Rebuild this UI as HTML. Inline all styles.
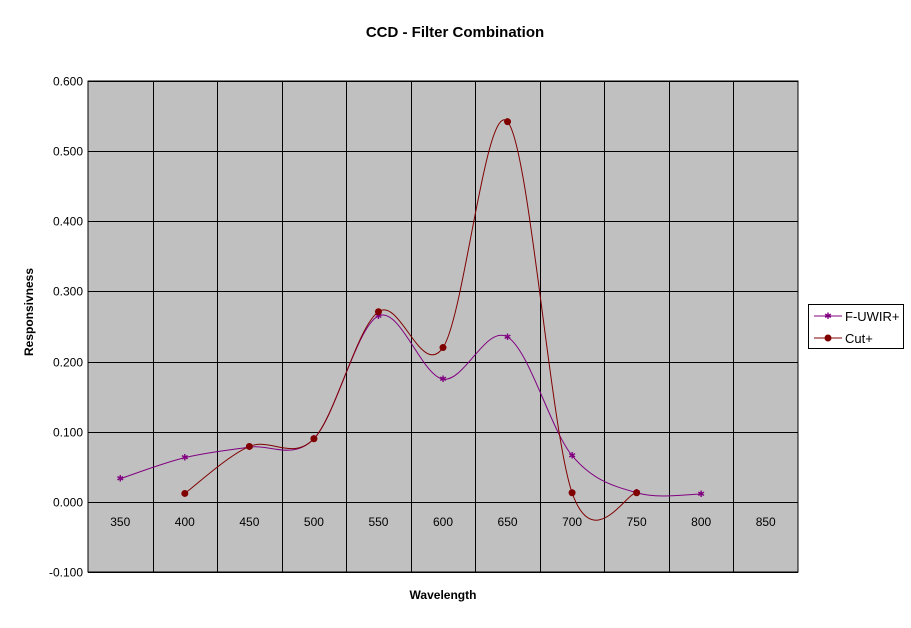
<!DOCTYPE html>
<html><head><meta charset="utf-8"><style>
body{margin:0;background:#fff;font-family:"Liberation Sans",Arial,sans-serif;}
svg text{font-family:"Liberation Sans",Arial,sans-serif;}
</style></head><body>
<svg id="chart" width="911" height="623" xmlns="http://www.w3.org/2000/svg">
<text x="455" y="37" text-anchor="middle" font-size="15" font-weight="bold">CCD - Filter Combination</text>
<rect x="88" y="81" width="710" height="491" fill="#c0c0c0" stroke="#000" stroke-width="1"/>
<g id="grid"></g>
<g id="yticks"></g>
<g id="xticks"></g>
<g id="series"></g>
<text x="443" y="599" text-anchor="middle" font-size="12" font-weight="bold">Wavelength</text>
<text x="33" y="312" text-anchor="middle" font-size="12" font-weight="bold" transform="rotate(-90 33 312)">Responsivness</text>
<g>
<rect x="808.5" y="304.5" width="95" height="44" fill="#fff" stroke="#000"/>
<g>
<line x1="814" y1="316" x2="842" y2="316" stroke="#800080"/>
<text x="828" y="319" font-size="9" fill="#800080" text-anchor="middle">✱</text>
<text x="845" y="321" font-size="13">F-UWIR+</text></g>
<g>
<line x1="814" y1="338" x2="842" y2="338" stroke="#800000"/>
<circle cx="828" cy="338" r="3.5" fill="#800000"/>
<text x="845" y="343" font-size="13">Cut+</text></g>
</g>
</svg>
<script>
const categories=[350,400,450,500,550,600,650,700,750,800,850];
const seriesNames=["F-UWIR+","Cut+"];
const fuwirValues=[0.033,0.063,0.078,0.090,0.265,0.175,0.235,0.066,0.013,0.011,null];
const cutValues=[null,0.012,0.079,0.090,0.271,0.220,0.542,0.013,0.013,null,null];
const yTicks=[-0.1,0,0.1,0.2,0.3,0.4,0.5,0.6];
const NS="http://www.w3.org/2000/svg";
const X0=88,X1=798,Y0=572,Y1=81,YMIN=-0.1,YMAX=0.6;
const bw=(X1-X0)/categories.length;
function xs(i){return X0+bw*(i+0.5);}
function ys(v){return Y0-(v-YMIN)/(YMAX-YMIN)*(Y0-Y1);}
function mk(tag,attrs,parent){const e=document.createElementNS(NS,tag);for(const k in attrs)e.setAttribute(k,attrs[k]);parent.appendChild(e);return e;}
const grid=document.getElementById('grid'),yt=document.getElementById('yticks'),xt=document.getElementById('xticks'),sg=document.getElementById('series');
yTicks.forEach(v=>{const y=Math.round(ys(v))+0.5;
const l=mk('line',{x1:X0,x2:X1,y1:y,y2:y,stroke:'#000'},grid);


const t=mk('text',{x:X0-5,y:y+4,'text-anchor':'end','font-size':12},yt);t.textContent=v.toFixed(3);

});
for(let i=1;i<categories.length;i++){const x=Math.round(X0+bw*i)+0.5;
const l=mk('line',{x1:x,x2:x,y1:Y1,y2:Y0,stroke:'#000'},grid);

}
categories.forEach((c,i)=>{const t=mk('text',{x:xs(i),y:ys(0)+24,'text-anchor':'middle','font-size':12},xt);t.textContent=c;

});
function path(vals){const p=[];vals.forEach((v,i)=>{if(v!==null)p.push([xs(i),ys(v)]);});
let d='M'+p[0][0]+','+p[0][1];
for(let i=0;i<p.length-1;i++){const a=p[Math.max(0,i-1)],b=p[i],c=p[i+1],e=p[Math.min(p.length-1,i+2)];
const c1=[b[0]+(c[0]-a[0])/6,b[1]+(c[1]-a[1])/6],c2=[c[0]-(e[0]-b[0])/6,c[1]-(e[1]-b[1])/6];
d+=' C'+c1+' '+c2+' '+c;}return [d,p];}
[[fuwirValues,'#800080','f-uwir'],[cutValues,'#800000','cut']].forEach(([vals,col,nm])=>{
const [d,p]=path(vals);
const pe=mk('path',{d:d,fill:'none',stroke:col,'stroke-width':1},sg);


p.forEach(q=>{let m;
if(nm==='cut'){m=mk('circle',{cx:q[0],cy:q[1],r:3.5,fill:col},sg);}
else{m=mk('text',{x:q[0],y:q[1]+3,'text-anchor':'middle','font-size':9,fill:col},sg);m.textContent='✱';}

});});
</script>
</body></html>
